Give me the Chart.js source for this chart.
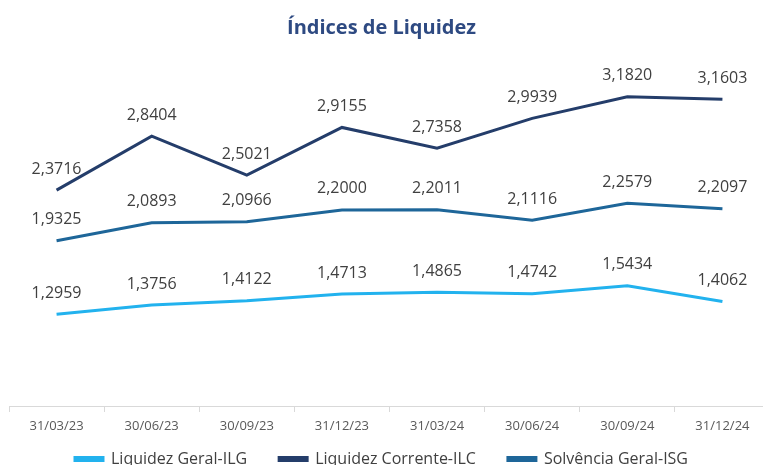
<!DOCTYPE html>
<html>
<head>
<meta charset="utf-8">
<script src="https://cdn.jsdelivr.net/npm/chart.js@4"></script>
<style>
  html,body{margin:0;padding:0;background:#fff;overflow:hidden;}
  #wrap{position:absolute;left:-7px;top:0;width:777px;height:477px;}
</style>
</head>
<body>
<div id="wrap"><canvas id="chart"></canvas></div>
<script>
// Dates (quarters)
const dates = ['31/03/23','30/06/23','30/09/23','31/12/23','31/03/24','30/06/24','30/09/24','31/12/24'];

// Series values
const ilg = [1.2959, 1.3756, 1.4122, 1.4713, 1.4865, 1.4742, 1.5434, 1.4062];
const ilc = [2.3716, 2.8404, 2.5021, 2.9155, 2.7358, 2.9939, 3.1820, 3.1603];
const isg = [1.9325, 2.0893, 2.0966, 2.2000, 2.2011, 2.1116, 2.2579, 2.2097];

const fontFam = "'Open Sans', 'Liberation Sans', sans-serif";

// draw value above each point (pt-BR decimal comma)
const valueLabels = {
  id:'valueLabels',
  afterDatasetsDraw(chart){
    const ctx = chart.ctx;
    ctx.save();
    ctx.font = '16px ' + fontFam;
    ctx.fillStyle = '#404040';
    ctx.textAlign = 'center';
    ctx.textBaseline = 'middle';
    chart.data.datasets.forEach((ds,i)=>{
      chart.getDatasetMeta(i).data.forEach((pt,j)=>{
        ctx.fillText(ds.data[j].toFixed(4).replace('.',','), pt.x, pt.y - 21);
      });
    });
    ctx.restore();
  }
};

function mkSet(label, data, color){
  return {
    label: label,
    data: data,
    borderColor: color,
    backgroundColor: color,
    borderWidth: 3,
    pointRadius: 0,
    tension: 0
  };
}

new Chart(document.getElementById('chart'), {
  type:'line',
  data:{
    labels: dates,
    datasets:[
      mkSet('Liquidez Geral-ILG', ilg, '#22B2EE'),
      mkSet('Liquidez Corrente-ILC', ilc, '#243D6A'),
      mkSet('Solvência Geral-ISG', isg, '#1E6699')
    ]
  },
  options:{
    responsive:true,
    maintainAspectRatio:false,
    animation:false,
    layout:{padding:0},
    plugins:{
      title:{
        display:true,
        text:'Índices de Liquidez',
        color:'#2E4A82',
        font:{family:fontFam, size:20, weight:'bold'},
        padding:{top:16, bottom:20}
      },
      legend:{
        position:'bottom',
        labels:{
          color:'#404040',
          font:{family:fontFam, size:16},
          boxWidth:28,
          boxHeight:3,
          padding:4,
          // wider gap between items than the padding gives
          generateLabels(chart){
            const items = Chart.defaults.plugins.legend.labels.generateLabels(chart);
            items.forEach((it,i)=>{ if(i < items.length-1) it.text += '\u2003\u2002\u2005'; });
            return items;
          }
        }
      },
      tooltip:{enabled:false}
    },
    scales:{
      x:{
        offset:true,
        grid:{offset:true, drawOnChartArea:false, drawTicks:true, tickLength:6, color:'#D9D9D9'},
        border:{color:'#D9D9D9'},
        ticks:{color:'#595959', font:{family:fontFam, size:13}, padding:6, maxRotation:0},
        afterFit(scale){ scale.height = 41; }
      },
      y:{
        display:true,
        min:0.5,
        max:3.5,
        ticks:{display:false},
        grid:{display:false},
        border:{display:false},
        afterFit(scale){ scale.width = 16; }
      }
    }
  },
  plugins:[valueLabels]
});
</script>
</body>
</html>
